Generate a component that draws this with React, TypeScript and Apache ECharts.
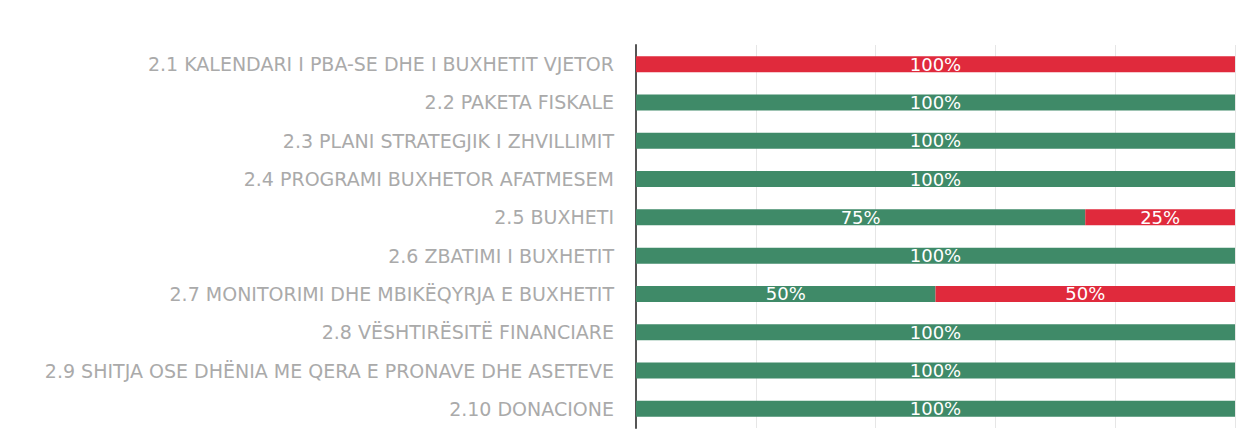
import React, { useEffect, useRef } from "react";
import * as echarts from "echarts";

const categories = [
  "2.1 KALENDARI I PBA-SE DHE I BUXHETIT VJETOR",
  "2.2 PAKETA FISKALE",
  "2.3 PLANI STRATEGJIK I ZHVILLIMIT",
  "2.4 PROGRAMI BUXHETOR AFATMESEM",
  "2.5 BUXHETI",
  "2.6 ZBATIMI I BUXHETIT",
  "2.7 MONITORIMI DHE MBIKËQYRJA E BUXHETIT",
  "2.8 VËSHTIRËSITË FINANCIARE",
  "2.9 SHITJA OSE DHËNIA ME QERA E PRONAVE DHE ASETEVE",
  "2.10 DONACIONE",
];
const greenValues = [0, 100, 100, 100, 75, 100, 50, 100, 100, 100];
const redValues = [100, 0, 0, 0, 25, 0, 50, 0, 0, 0];

export default function App() {
  const ref = useRef<HTMLDivElement>(null);
  useEffect(() => {
    if (!ref.current) return;
    const chart = echarts.init(ref.current, null, { renderer: "svg" });
    const font = "DejaVu Sans, sans-serif";
    const label = {
      show: true,
      position: "inside" as const,
      color: "#ffffff",
      fontSize: 18,
      fontFamily: font,
      formatter: (p: any) => (p.value > 0 ? p.value + "%" : ""),
    };
    chart.setOption({
      animation: false,
      grid: { left: 636, right: 6, top: 45, bottom: 18, containLabel: false },
      xAxis: {
        type: "value",
        min: 0,
        max: 100,
        interval: 20,
        axisLabel: { show: false },
        axisLine: { show: false },
        axisTick: { show: false },
        splitLine: { show: true, lineStyle: { color: "#e6e6e6", width: 1 } },
      },
      yAxis: {
        type: "category",
        inverse: true,
        data: categories,
        axisLine: { show: true, lineStyle: { color: "#555555", width: 2 } },
        axisTick: { show: false },
        axisLabel: {
          color: "#aaaaaa",
          fontSize: 19,
          margin: 22,
          fontFamily: font,
        },
      },
      series: [
        {
          name: "Po",
          type: "bar",
          stack: "total",
          barWidth: 16,
          data: greenValues,
          itemStyle: { color: "#3f8a68" },
          label,
        },
        {
          name: "Jo",
          type: "bar",
          stack: "total",
          barWidth: 16,
          data: redValues,
          itemStyle: { color: "#e02a3c" },
          label,
        },
      ],
    });
    return () => chart.dispose();
  }, []);
  return (
    <div
      ref={ref}
      style={{ position: "absolute", left: 0, top: 0, width: 1241, height: 446 }}
    />
  );
}
